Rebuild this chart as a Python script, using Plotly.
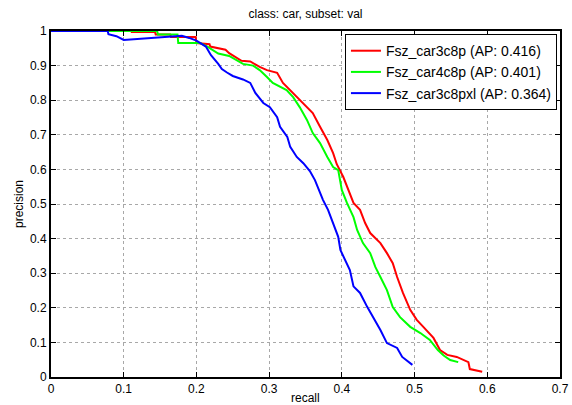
import plotly.graph_objects as go

# ---- data ----
red_recall = [0.0, 0.110, 0.111, 0.143, 0.144, 0.164, 0.165, 0.199, 0.200, 0.218, 0.219, 0.240, 0.245,
              0.262, 0.274, 0.287, 0.297, 0.311, 0.319, 0.333, 0.342, 0.360, 0.370, 0.380, 0.388,
              0.393, 0.402, 0.409, 0.416, 0.425, 0.432, 0.439, 0.453, 0.462, 0.470, 0.476, 0.484,
              0.494, 0.503, 0.512, 0.526, 0.535, 0.545, 0.558, 0.574, 0.576, 0.593]
red_prec = [1.0, 1.0, 0.997, 0.997, 0.99, 0.99, 0.983, 0.983, 0.965, 0.962, 0.955, 0.946, 0.936,
            0.914, 0.912, 0.896, 0.887, 0.879, 0.850, 0.821, 0.800, 0.763, 0.723, 0.685, 0.647,
            0.615, 0.578, 0.540, 0.503, 0.483, 0.445, 0.416, 0.387, 0.358, 0.329, 0.289, 0.243,
            0.194, 0.165, 0.145, 0.113, 0.078, 0.064, 0.058, 0.043, 0.023, 0.015]

green_recall = [0.0, 0.146, 0.147, 0.174, 0.175, 0.205, 0.215, 0.223, 0.230, 0.245, 0.258, 0.264,
                0.278, 0.287, 0.297, 0.305, 0.324, 0.333, 0.342, 0.352, 0.360, 0.370, 0.380, 0.388,
                0.395, 0.400, 0.407, 0.416, 0.421, 0.429, 0.439, 0.446, 0.453, 0.462, 0.470, 0.480,
                0.494, 0.508, 0.521, 0.532, 0.540, 0.549, 0.560]
green_prec = [1.0, 1.0, 0.99, 0.99, 0.965, 0.965, 0.955, 0.945, 0.935, 0.928, 0.913, 0.905,
              0.900, 0.887, 0.867, 0.850, 0.829, 0.809, 0.780, 0.743, 0.705, 0.676, 0.636, 0.607,
              0.598, 0.540, 0.503, 0.462, 0.425, 0.387, 0.358, 0.318, 0.289, 0.251, 0.202, 0.173,
              0.145, 0.127, 0.107, 0.078, 0.062, 0.049, 0.043]

blue_recall = [0.0, 0.078, 0.079, 0.090, 0.100, 0.140, 0.180, 0.190, 0.200, 0.213, 0.220, 0.230,
               0.235, 0.242, 0.250, 0.264, 0.274, 0.281, 0.292, 0.301, 0.311, 0.315, 0.325, 0.329,
               0.338, 0.347, 0.356, 0.363, 0.374, 0.381, 0.388, 0.395, 0.398, 0.404, 0.411, 0.416,
               0.425, 0.435, 0.443, 0.453, 0.462, 0.476, 0.483, 0.497]
blue_prec = [1.0, 1.0, 0.991, 0.985, 0.974, 0.980, 0.986, 0.980, 0.972, 0.955, 0.930, 0.905,
             0.890, 0.880, 0.870, 0.860, 0.850, 0.821, 0.792, 0.780, 0.751, 0.723, 0.694, 0.665,
             0.636, 0.618, 0.595, 0.569, 0.512, 0.483, 0.445, 0.405, 0.367, 0.338, 0.309, 0.262,
             0.243, 0.202, 0.173, 0.136, 0.098, 0.084, 0.058, 0.035]

series_names = ["Fsz_car3c8p (AP: 0.416)", "Fsz_car4c8p (AP: 0.401)", "Fsz_car3c8pxl (AP: 0.364)"]
series_colors = ["#ff0000", "#00ff00", "#0000ff"]

x_ticks = [0, 0.1, 0.2, 0.3, 0.4, 0.5, 0.6, 0.7]
x_tick_labels = ["0", "0.1", "0.2", "0.3", "0.4", "0.5", "0.6", "0.7"]
y_ticks = [0, 0.1, 0.2, 0.3, 0.4, 0.5, 0.6, 0.7, 0.8, 0.9, 1.0]
y_tick_labels = ["0", "0.1", "0.2", "0.3", "0.4", "0.5", "0.6", "0.7", "0.8", "0.9", "1"]

FONT = "Liberation Sans, Arial, Helvetica, sans-serif"
W, H = 572, 405
L, R, T, B = 51, 12, 31, 28
PW, PH = W - L - R, H - T - B

fig = go.Figure()
for xs, ys, name, col in zip([red_recall, green_recall, blue_recall],
                             [red_prec, green_prec, blue_prec],
                             series_names, series_colors):
    fig.add_trace(go.Scatter(x=xs, y=ys, mode="lines", name=name,
                             line=dict(color=col, width=2)))

axis_common = dict(showline=True, linecolor="black", linewidth=2, mirror="ticks",
                   ticks="inside", ticklen=5, tickcolor="black", tickwidth=1,
                   showgrid=True, gridcolor="#a8a8a8", griddash="dot", gridwidth=1,
                   zeroline=False, automargin=False,
                   tickfont=dict(family=FONT, size=12, color="black"))

fig.update_layout(
    width=W, height=H,
    margin=dict(l=L, r=R, t=T, b=B),
    paper_bgcolor="white", plot_bgcolor="white",
    title=dict(text="class: car, subset: val", x=0.5, xref="paper", xanchor="center",
               y=1 - 14 / H, yref="container", yanchor="middle",
               font=dict(family=FONT, size=12, color="black")),
    xaxis=dict(range=[0, 0.7], tickvals=x_ticks, ticktext=x_tick_labels,
               ticklabelstandoff=0, **axis_common),
    yaxis=dict(range=[0, 1], tickvals=y_ticks, ticktext=y_tick_labels,
               **axis_common),
    legend=dict(x=0.994, y=0.991, xanchor="right", yanchor="top",
                bgcolor="white", bordercolor="black", borderwidth=1,
                font=dict(family=FONT, size=14, color="black"),
                tracegroupgap=0, itemwidth=30),
    showlegend=True,
    annotations=[
        dict(text="recall", xref="paper", yref="paper", x=0.5, y=-(398 - (H - B)) / PH,
             xanchor="center", yanchor="middle", showarrow=False,
             font=dict(family=FONT, size=12, color="black")),
        dict(text="precision", xref="paper", yref="paper", x=-(L - 19) / PW, y=0.5,
             xanchor="center", yanchor="middle", textangle=-90, showarrow=False,
             font=dict(family=FONT, size=12, color="black")),
    ],
)

fig.write_html("out.html")
